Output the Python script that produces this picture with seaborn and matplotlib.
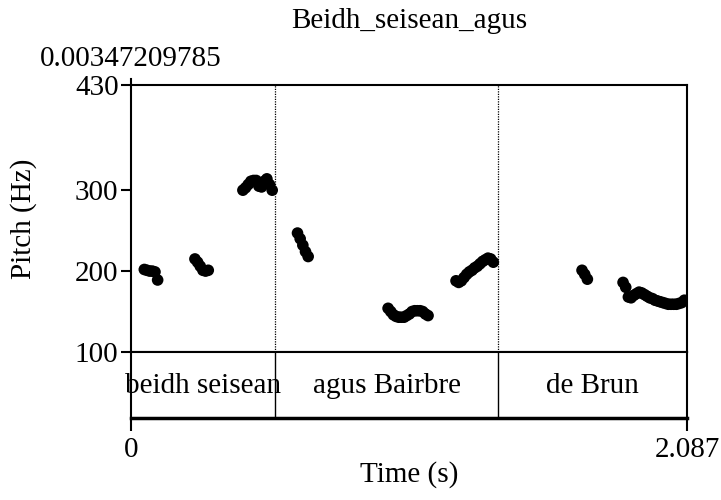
import pandas as pd
import numpy as np
import matplotlib
matplotlib.use("Agg")
import matplotlib.pyplot as plt
import seaborn as sns

sns.set_theme(style="ticks")
plt.rcParams["font.family"] = ["Liberation Serif", "DejaVu Serif"]
plt.rcParams["font.size"] = 21
plt.rcParams["axes.xmargin"] = 0
for key in ["text.color", "axes.labelcolor", "xtick.color", "ytick.color", "axes.edgecolor"]:
    plt.rcParams[key] = "black"

title = "Beidh_seisean_agus"
start_mark = "0.00347209785"
duration = 2.087
y_ticks = [100, 200, 300, 430]

# pitch track (s, Hz), one pair of lists per voiced stretch
v1_time = [0.050, 0.060, 0.070, 0.080, 0.090, 0.100]
v1_hz = [202, 201, 200, 200, 199, 189]
v2_time = [0.240, 0.250, 0.260, 0.270, 0.280, 0.290]
v2_hz = [215, 211, 206, 201, 200, 201]
v3_time = [0.420, 0.430, 0.440, 0.450, 0.460, 0.470, 0.480, 0.490, 0.500, 0.510, 0.520, 0.530]
v3_hz = [300, 303, 307, 311, 312, 312, 305, 304, 311, 314, 307, 300]
v4_time = [0.625, 0.635, 0.645, 0.655, 0.665]
v4_hz = [247, 240, 232, 224, 218]
v5_time = [0.965, 0.975, 0.985, 0.995, 1.005, 1.015, 1.025, 1.035,
           1.045, 1.055, 1.065, 1.075, 1.085, 1.095, 1.105, 1.115]
v5_hz = [154, 150, 146, 144, 143, 143, 143, 145, 147, 150, 151, 151, 151, 150, 147, 145]
v6_time = [1.220, 1.230, 1.240, 1.250, 1.260, 1.270, 1.280, 1.290,
           1.300, 1.310, 1.320, 1.330, 1.340, 1.350, 1.360]
v6_hz = [188, 186, 188, 192, 196, 199, 201, 204, 206, 209, 212, 214, 216, 215, 211]
v7_time = [1.693, 1.703, 1.713]
v7_hz = [201, 196, 190]
v8_time = [1.847, 1.857, 1.867, 1.877, 1.887, 1.897, 1.907, 1.917, 1.927, 1.937, 1.947, 1.957,
           1.967, 1.977, 1.987, 1.997, 2.007, 2.017, 2.027, 2.037, 2.047, 2.057, 2.067, 2.077]
v8_hz = [186, 180, 168, 167, 170, 172, 174, 173, 171, 169, 167, 166,
         164, 163, 162, 161, 160, 159, 159, 159, 159, 160, 161, 164]

# text grid tier
boundaries = [0.0, 0.5405, 1.378, 2.087]
words = ["beidh seisean", "agus Bairbre", "de Brun"]

times = v1_time + v2_time + v3_time + v4_time + v5_time + v6_time + v7_time + v8_time
hz = v1_hz + v2_hz + v3_hz + v4_hz + v5_hz + v6_hz + v7_hz + v8_hz
pitch_df = pd.DataFrame({"Time": times, "Pitch": hz})

fig = plt.figure(figsize=(7.21, 5.0), dpi=100)
ax = fig.add_axes([131 / 721, 1 - 352 / 500, 556 / 721, 267 / 500])
tier = fig.add_axes([131 / 721, 1 - 418 / 500, 556 / 721, 66 / 500], sharex=ax)

sns.scatterplot(data=pitch_df, x="Time", y="Pitch", ax=ax, s=70, color="black",
                edgecolor="none", legend=False, zorder=3)

ax.set_xlim(0, duration)
ax.set_ylim(100, 430)
ax.set_yticks(y_ticks)
ax.set_yticklabels([str(v) for v in y_ticks])
ax.tick_params(axis="y", direction="out", length=7, width=1.5, pad=2, labelsize=21)
ax.tick_params(axis="x", bottom=False, labelbottom=False)
ax.set_xlabel("")
ax.set_ylabel("Pitch (Hz)", fontsize=21, labelpad=27)
for sp in ax.spines.values():
    sp.set_linewidth(1.5)
    sp.set_visible(True)
# left axis pokes a little above the top frame, as in Praat
ax.spines["left"].set_bounds(100, 437)
for b in boundaries[1:-1]:
    ax.axvline(b, color="black", lw=0.9, ls=(0, (1, 1)), zorder=1)

ax.annotate(start_mark, xy=(0, 1.0), xycoords="axes fraction", xytext=(0, 14),
            textcoords="offset points", ha="center", va="baseline", fontsize=21)
ax.set_title(title, fontsize=21, pad=41)

# tier with word intervals
tier.set_ylim(0, 1)
for b in boundaries[1:-1]:
    tier.axvline(b, color="black", lw=1.0)
for i, w in enumerate(words):
    mid = (boundaries[i] + boundaries[i + 1]) / 2
    tier.text(mid, 0.48, w, ha="center", va="center", fontsize=21)
tier.set_yticks([])
tier.set_xticks([0, duration])
tier.set_xticklabels(["0", "2.087"])
tier.tick_params(axis="x", direction="out", length=9, width=1.5, pad=5, labelsize=21)
tier.set_xlabel("Time (s)", fontsize=21, labelpad=-2)
for sp in tier.spines.values():
    sp.set_linewidth(1.5)
    sp.set_visible(True)
tier.spines["bottom"].set_linewidth(2.5)

plt.savefig("out.png", dpi=100)
